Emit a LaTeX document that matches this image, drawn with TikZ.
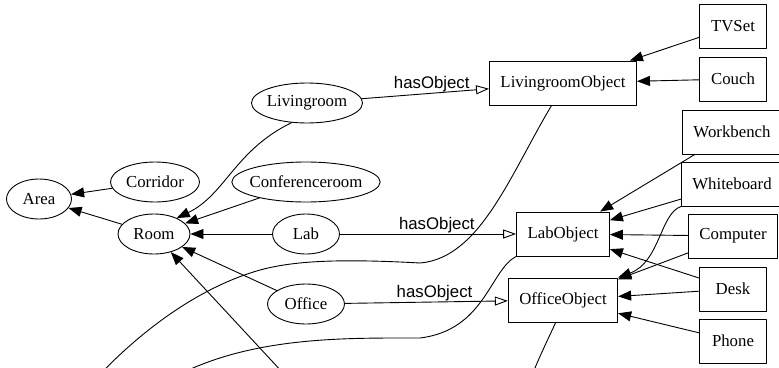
\documentclass[tikz,border=0pt]{standalone}
\usepackage{fontspec}
\setmainfont{Liberation Serif}
\setsansfont{Liberation Sans}
\usetikzlibrary{arrows.meta, shapes.geometric}

\begin{document}
\begin{tikzpicture}[x=1pt, y=-1pt, line width=0.9pt, line join=round, line cap=round,
    cls/.style={draw, ellipse, minimum height=40pt, inner xsep=-4pt, font=\fontsize{16.8}{18}\selectfont},
    obj/.style={draw, rectangle, minimum width=67pt, minimum height=44pt, inner xsep=11pt, font=\fontsize{16.8}{18}\selectfont},
    isa/.style={-{Triangle[length=13pt, width=10pt]}},
    has/.style={-{Triangle[open, length=13pt, width=9pt]}},
    lbl/.style={font=\sffamily\fontsize{16.8}{18}\selectfont, above, inner sep=1pt}]

    \useasboundingbox (0,0) rectangle (779,367);
    \clip (0,0) rectangle (779,367);

    % classes (ellipses)
    \node[cls, minimum width=65pt]  (area)       at (39,199)  {Area};
    \node[cls, minimum width=89pt]  (corridor)   at (155,182) {Corridor};
    \node[cls, minimum width=72pt]  (room)       at (154,234) {Room};
    \node[cls, minimum width=111pt] (livingroom) at (307,103) {Livingroom};
    \node[cls, minimum width=147pt] (confroom)   at (306,182) {Conferenceroom};
    \node[cls, minimum width=67pt]  (lab)        at (306,234) {Lab};
    \node[cls, minimum width=77pt]  (office)     at (306,304) {Office};

    % object groups
    \node[obj] (lrobj)  at (563,83)  {LivingroomObject};
    \node[obj] (labobj) at (563,234) {LabObject};
    \node[obj] (offobj) at (563,300) {OfficeObject};

    % things
    \node[obj] (tvset)      at (733,26)  {TVSet};
    \node[obj] (couch)      at (733,79)  {Couch};
    \node[obj] (workbench)  at (732,132) {Workbench};
    \node[obj] (whiteboard) at (732,184) {Whiteboard};
    \node[obj] (computer)   at (733,236) {Computer};
    \node[obj] (desk)       at (733,289) {Desk};
    \node[obj] (phone)      at (733,341) {Phone};

    % ends below the picture
    \coordinate (roomdown) at (310,402);
    \coordinate (lrdown)   at (90,385);
    \coordinate (labdown)  at (160,385);
    \coordinate (offdown)  at (530,380);

    % subclass edges
    \foreach \a/\b in {corridor/area, room/area, confroom/room, lab/room, office/room, roomdown/room} {
        \draw[isa] (\a) -- (\b);
    }
    \draw[isa] (livingroom.232) .. controls (235,150) and (225,195) .. (room.35);

    % hasObject
    \draw[has] (livingroom) -- node[lbl, pos=0.55] {hasObject} (lrobj);
    \draw[has] (lab) -- node[lbl, pos=0.55] {hasObject} (labobj);
    \draw[has] (office) -- node[lbl, pos=0.55] {hasObject} (offobj);

    % things to groups
    \foreach \a/\b in {tvset/lrobj, couch/lrobj, workbench/labobj, whiteboard/labobj, computer/labobj, desk/labobj,
                       computer/offobj, desk/offobj, phone/offobj} {
        \draw[isa] (\a) -- (\b);
    }
    \draw[isa] (whiteboard.south west) .. controls (660,214) and (660,262) .. (offobj.north east);

    % groups going down out of the picture
    \draw (lrobj.243) .. controls (510,175) and (480,258) .. (420,263)
        .. controls (330,258) and (290,262) .. (260,270)
        .. controls (200,287) and (140,330) .. (lrdown);
    \draw (labobj.south west) .. controls (490,270) and (485,330) .. (420,338)
        .. controls (340,338) and (240,336) .. (labdown);
    \draw (offobj.252) .. controls (550,335) and (540,355) .. (offdown);

\end{tikzpicture}
\end{document}
